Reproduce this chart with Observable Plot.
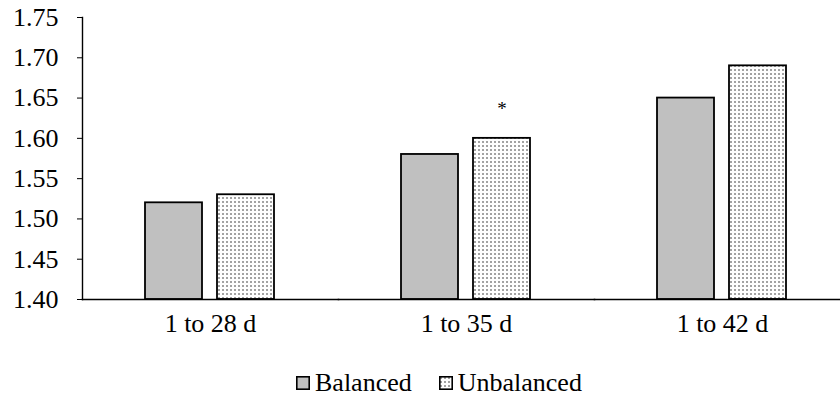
<!DOCTYPE html>
<html><head><meta charset="utf-8">
<script src="https://cdn.jsdelivr.net/npm/d3@7"></script>
<script src="https://cdn.jsdelivr.net/npm/@observablehq/plot@0.6"></script>
<style>
body{margin:0;background:#fff;font-family:'Liberation Serif',serif;}
#chart svg{display:block;}
#chart svg text{font-family:'Liberation Serif',serif;}
#legend{height:54px;display:flex;align-items:center;justify-content:flex-start;padding-left:296px;padding-top:22px;box-sizing:border-box;font-size:26px;color:#000;}
#legend .item{display:flex;align-items:center;margin-right:27px;}
#legend .item svg{margin-right:5px;}
</style></head><body>
<svg width="0" height="0" style="position:absolute"><defs>
<pattern id="dots" width="4" height="4" patternUnits="userSpaceOnUse"><rect width="4" height="4" fill="#fff"/><rect x="1" y="1" width="2" height="2" fill="#a3a3a3"/></pattern>
</defs></svg>
<div id="chart"></div>
<div id="legend"></div>
<script>
const periods = ["1 to 28 d", "1 to 35 d", "1 to 42 d"];
const seriesNames = ["Balanced", "Unbalanced"];
const balanced = [1.52, 1.58, 1.65];
const unbalanced = [1.53, 1.60, 1.69];
const yTicks = [1.40, 1.45, 1.50, 1.55, 1.60, 1.65, 1.70, 1.75];
const sigPeriod = ["1 to 35 d"];
const sigSeries = ["Unbalanced"];
const sigLabel = ["*"];

const fills = {Balanced: "#c0c0c0", Unbalanced: "url(#dots)"};

const data = [];
periods.forEach((p, i) => {
  data.push({period: p, series: "Balanced", value: balanced[i]});
  data.push({period: p, series: "Unbalanced", value: unbalanced[i]});
});
const sig = sigPeriod.map((p, i) => {
  const idx = periods.indexOf(p);
  const v = sigSeries[i] === "Balanced" ? balanced[idx] : unbalanced[idx];
  return {period: p, series: sigSeries[i], value: v, label: sigLabel[i]};
});

const chart = Plot.plot({
  width: 840,
  height: 345,
  marginTop: 17,
  marginBottom: 46,
  marginLeft: 81,
  marginRight: -11,
  style: {fontFamily: "'Liberation Serif', serif", fontSize: "26px", color: "#000", background: "#fff"},
  fx: {domain: periods, padding: 0, label: null, axis: null},
  x: {domain: seriesNames, paddingInner: 0.205, paddingOuter: 0.86, axis: null},
  y: {domain: [1.40, 1.75], label: null},
  color: {domain: seriesNames, range: seriesNames.map(s => fills[s])},
  marks: [
    Plot.barY(data, {fx: "period", x: "series", y1: 1.40, y2: "value", fill: "series", stroke: "#000", strokeWidth: 1.8}),
    Plot.frame({anchor: "bottom", stroke: "#000", strokeWidth: 1.6}),
    Plot.frame({anchor: "left", facetAnchor: "left", stroke: "#000", strokeWidth: 1.4}),
    Plot.axisY({ticks: yTicks, tickFormat: d3.format(".2f"), tickSize: 5, tickPadding: 19, label: null, fontSize: 26, facetAnchor: "left"}),
    Plot.axisFx({anchor: "bottom", tickSize: 0, tickPadding: 14, label: null, fontSize: 26}),
    Plot.text(sig, {fx: "period", x: "series", y: "value", text: "label", dy: -29, fontSize: 19, fill: "#000"})
  ]
});
document.getElementById("chart").appendChild(chart);

const legend = document.getElementById("legend");
seriesNames.forEach(s => {
  const item = document.createElement("div");
  item.className = "item";
  item.innerHTML = `<svg width="14" height="14"><rect x="0.8" y="0.8" width="12.4" height="12.4" fill="${fills[s]}" stroke="#000" stroke-width="1.6"/></svg><span>${s}</span>`;
  legend.appendChild(item);
});
</script>
</body></html>
